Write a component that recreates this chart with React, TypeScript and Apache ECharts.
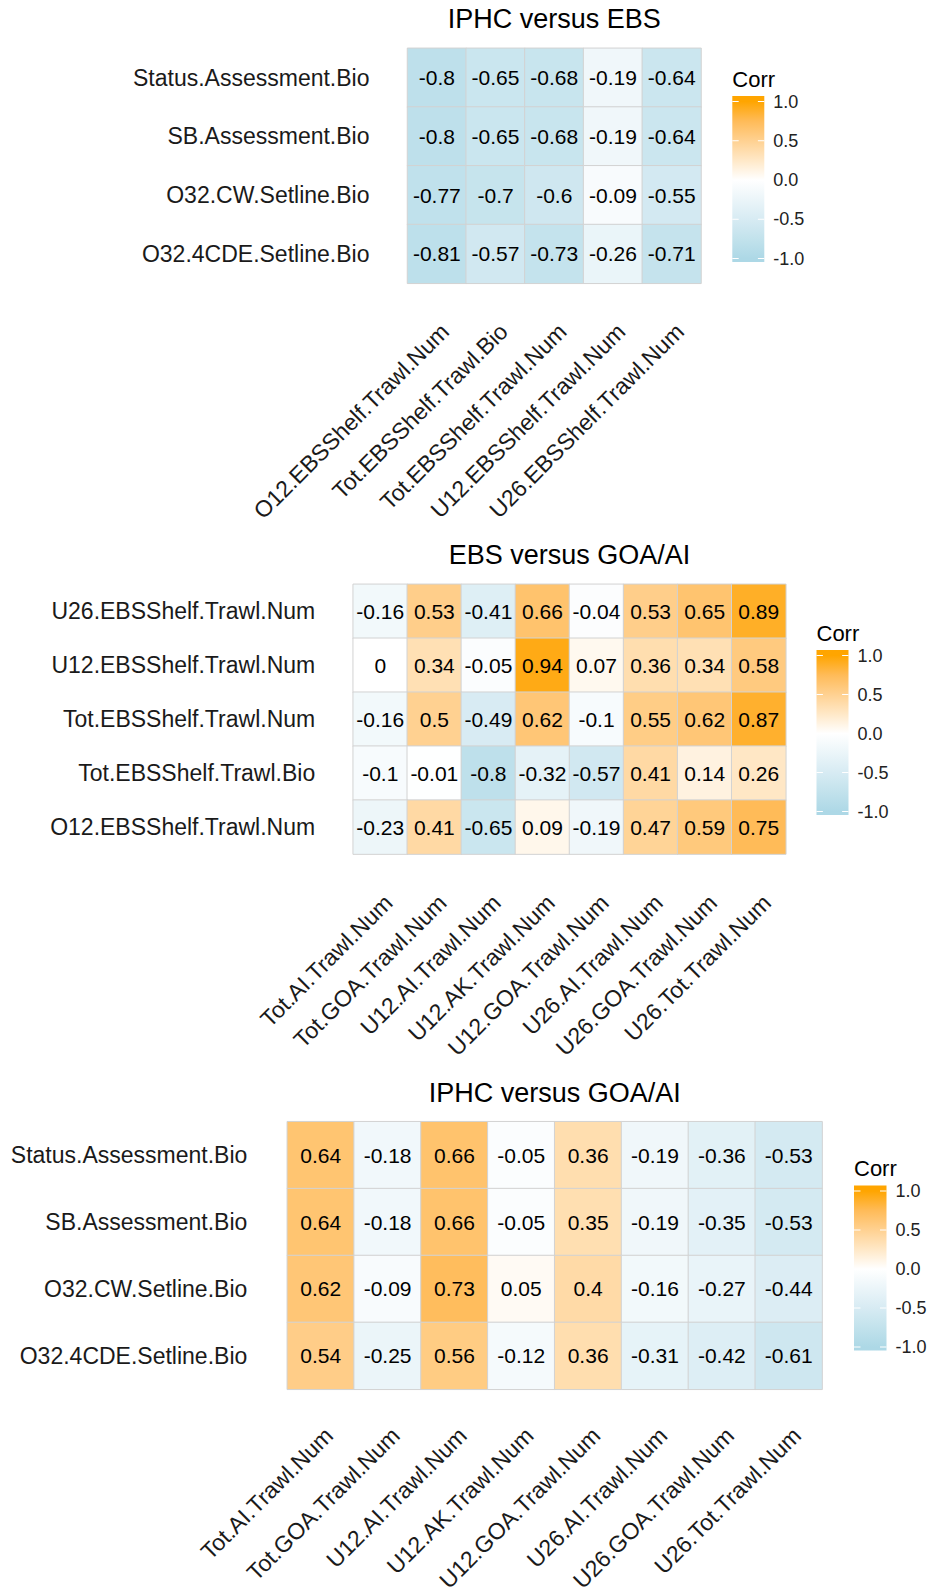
import React, { useEffect, useRef } from "react";
import * as echarts from "echarts";

// ---------- DATA ----------
const iphcRows = [
  "Status.Assessment.Bio",
  "SB.Assessment.Bio",
  "O32.CW.Setline.Bio",
  "O32.4CDE.Setline.Bio",
];
const ebsCols = [
  "O12.EBSShelf.Trawl.Num",
  "Tot.EBSShelf.Trawl.Bio",
  "Tot.EBSShelf.Trawl.Num",
  "U12.EBSShelf.Trawl.Num",
  "U26.EBSShelf.Trawl.Num",
];
const iphcEbsValues = [
  [-0.8, -0.65, -0.68, -0.19, -0.64],
  [-0.8, -0.65, -0.68, -0.19, -0.64],
  [-0.77, -0.7, -0.6, -0.09, -0.55],
  [-0.81, -0.57, -0.73, -0.26, -0.71],
];

const ebsRows = [
  "U26.EBSShelf.Trawl.Num",
  "U12.EBSShelf.Trawl.Num",
  "Tot.EBSShelf.Trawl.Num",
  "Tot.EBSShelf.Trawl.Bio",
  "O12.EBSShelf.Trawl.Num",
];
const goaAiCols = [
  "Tot.AI.Trawl.Num",
  "Tot.GOA.Trawl.Num",
  "U12.AI.Trawl.Num",
  "U12.AK.Trawl.Num",
  "U12.GOA.Trawl.Num",
  "U26.AI.Trawl.Num",
  "U26.GOA.Trawl.Num",
  "U26.Tot.Trawl.Num",
];
const ebsGoaAiValues = [
  [-0.16, 0.53, -0.41, 0.66, -0.04, 0.53, 0.65, 0.89],
  [0, 0.34, -0.05, 0.94, 0.07, 0.36, 0.34, 0.58],
  [-0.16, 0.5, -0.49, 0.62, -0.1, 0.55, 0.62, 0.87],
  [-0.1, -0.01, -0.8, -0.32, -0.57, 0.41, 0.14, 0.26],
  [-0.23, 0.41, -0.65, 0.09, -0.19, 0.47, 0.59, 0.75],
];

const iphcGoaAiValues = [
  [0.64, -0.18, 0.66, -0.05, 0.36, -0.19, -0.36, -0.53],
  [0.64, -0.18, 0.66, -0.05, 0.35, -0.19, -0.35, -0.53],
  [0.62, -0.09, 0.73, 0.05, 0.4, -0.16, -0.27, -0.44],
  [0.54, -0.25, 0.56, -0.12, 0.36, -0.31, -0.42, -0.61],
];

const panelTitles = ["IPHC versus EBS", "EBS versus GOA/AI", "IPHC versus GOA/AI"];
const legendTitle = "Corr";
const legendTicks = [1, 0.5, 0, -0.5, -1];
const legendTickLabels = ["1.0", "0.5", "0.0", "-0.5", "-1.0"];

// colour scale (lightblue - white - orange, Lab-like interpolation)
const scaleValues = [-1, -0.75, -0.5, -0.25, 0, 0.25, 0.5, 0.75, 1];
const scaleColors = [
  "#ADD8E6",
  "#C2E2EC",
  "#D7EBF3",
  "#EBF5F9",
  "#FFFFFF",
  "#FFE8C7",
  "#FFD191",
  "#FFBB58",
  "#FFA500",
];

// ---------- LAYOUT ----------
const FONT = "'Liberation Sans', Arial, sans-serif";
const panels = [
  {
    rows: iphcRows, cols: ebsCols, values: iphcEbsValues, title: panelTitles[0],
    grid: { left: 407.5, top: 48.3, width: 293.5, height: 235 },
    yMargin: 38, xMargin: 36, titleY: 19,
    legend: { x: 732.3, y: 96, w: 32, h: 166 },
  },
  {
    rows: ebsRows, cols: goaAiCols, values: ebsGoaAiValues, title: panelTitles[1],
    grid: { left: 353.2, top: 584.3, width: 432.6, height: 269.8 },
    yMargin: 38, xMargin: 36.5, titleY: 555,
    legend: { x: 816.5, y: 650, w: 32, h: 165 },
  },
  {
    rows: iphcRows, cols: goaAiCols, values: iphcGoaAiValues, title: panelTitles[2],
    grid: { left: 287.3, top: 1121.7, width: 534.8, height: 267.6 },
    yMargin: 40, xMargin: 34, titleY: 1093,
    legend: { x: 854, y: 1185.5, w: 32.5, h: 165 },
  },
];

function legendElements(lg: { x: number; y: number; w: number; h: number }) {
  const t0 = lg.y + 5.5;
  const t1 = lg.y + lg.h - 3.5;
  const yOf = (v: number) => t0 + ((1 - v) / 2) * (t1 - t0);
  const stops = scaleValues
    .map((v, i) => ({ offset: (yOf(v) - lg.y) / lg.h, color: scaleColors[i] }))
    .sort((a, b) => a.offset - b.offset);
  const els: any[] = [
    {
      type: "rect",
      shape: { x: lg.x, y: lg.y, width: lg.w, height: lg.h },
      style: { fill: new echarts.graphic.LinearGradient(0, 0, 0, 1, stops) },
      silent: true,
    },
    {
      type: "text",
      x: lg.x,
      y: lg.y - 17,
      style: {
        text: legendTitle, fontSize: 22, fontFamily: FONT, fill: "#000",
        align: "left", verticalAlign: "middle",
      },
      silent: true,
    },
  ];
  const tl = lg.w / 5;
  legendTicks.forEach((v, i) => {
    const y = yOf(v);
    els.push({
      type: "line",
      shape: { x1: lg.x, y1: y, x2: lg.x + tl, y2: y },
      style: { stroke: "#ffffff", lineWidth: 1 },
      silent: true,
    });
    els.push({
      type: "line",
      shape: { x1: lg.x + lg.w - tl, y1: y, x2: lg.x + lg.w, y2: y },
      style: { stroke: "#ffffff", lineWidth: 1 },
      silent: true,
    });
    els.push({
      type: "text",
      x: lg.x + lg.w + 9,
      y,
      style: {
        text: legendTickLabels[i], fontSize: 18, fontFamily: FONT, fill: "#222",
        align: "left", verticalAlign: "middle",
      },
      silent: true,
    });
  });
  return els;
}

export default function App() {
  const ref = useRef<HTMLDivElement>(null);
  useEffect(() => {
    if (!ref.current) return;
    const chart = echarts.init(ref.current, null, { renderer: "svg" });

    const grids = panels.map((p) => ({
      ...p.grid,
      containLabel: false,
      outerBoundsMode: "none",
    }));
    const xAxes = panels.map((p, i) => ({
      type: "category",
      gridIndex: i,
      data: p.cols,
      position: "bottom",
      axisLine: { show: false },
      axisTick: { show: false },
      splitLine: { show: false },
      axisLabel: {
        interval: 0,
        rotate: 45,
        margin: p.xMargin,
        align: "right",
        verticalAlign: "top",
        fontSize: 23,
        fontFamily: FONT,
        color: "#1a1a1a",
      },
    }));
    const yAxes = panels.map((p, i) => ({
      type: "category",
      gridIndex: i,
      data: p.rows,
      inverse: true,
      axisLine: { show: false },
      axisTick: { show: false },
      splitLine: { show: false },
      axisLabel: {
        interval: 0,
        margin: p.yMargin,
        fontSize: 23,
        fontFamily: FONT,
        color: "#1a1a1a",
      },
    }));
    const series = panels.map((p, i) => ({
      type: "heatmap",
      xAxisIndex: i,
      yAxisIndex: i,
      data: p.values.flatMap((row, r) => row.map((v, c) => [c, r, v])),
      label: {
        show: true,
        formatter: (prm: any) => String(prm.value[2]),
        fontSize: 21,
        fontFamily: FONT,
        color: "#000",
      },
      itemStyle: { borderColor: "#d2d2d2", borderWidth: 1 },
      emphasis: { disabled: true },
    }));

    const graphics: any[] = [];
    panels.forEach((p) => {
      graphics.push({
        type: "text",
        x: p.grid.left + p.grid.width / 2,
        y: p.titleY,
        style: {
          text: p.title, fontSize: 27, fontFamily: FONT, fill: "#000",
          align: "center", verticalAlign: "middle",
        },
        silent: true,
      });
      graphics.push(...legendElements(p.legend));
    });

    chart.setOption({
      animation: false,
      backgroundColor: "#ffffff",
      textStyle: { fontFamily: FONT },
      grid: grids,
      xAxis: xAxes,
      yAxis: yAxes,
      visualMap: {
        type: "continuous",
        show: false,
        min: -1,
        max: 1,
        dimension: 2,
        seriesIndex: [0, 1, 2],
        inRange: { color: scaleColors },
      },
      series,
      graphic: graphics,
    });
    return () => chart.dispose();
  }, []);
  return (
    <div
      ref={ref}
      style={{ position: "absolute", left: 0, top: 0, width: 930, height: 1593, background: "#fff" }}
    />
  );
}
